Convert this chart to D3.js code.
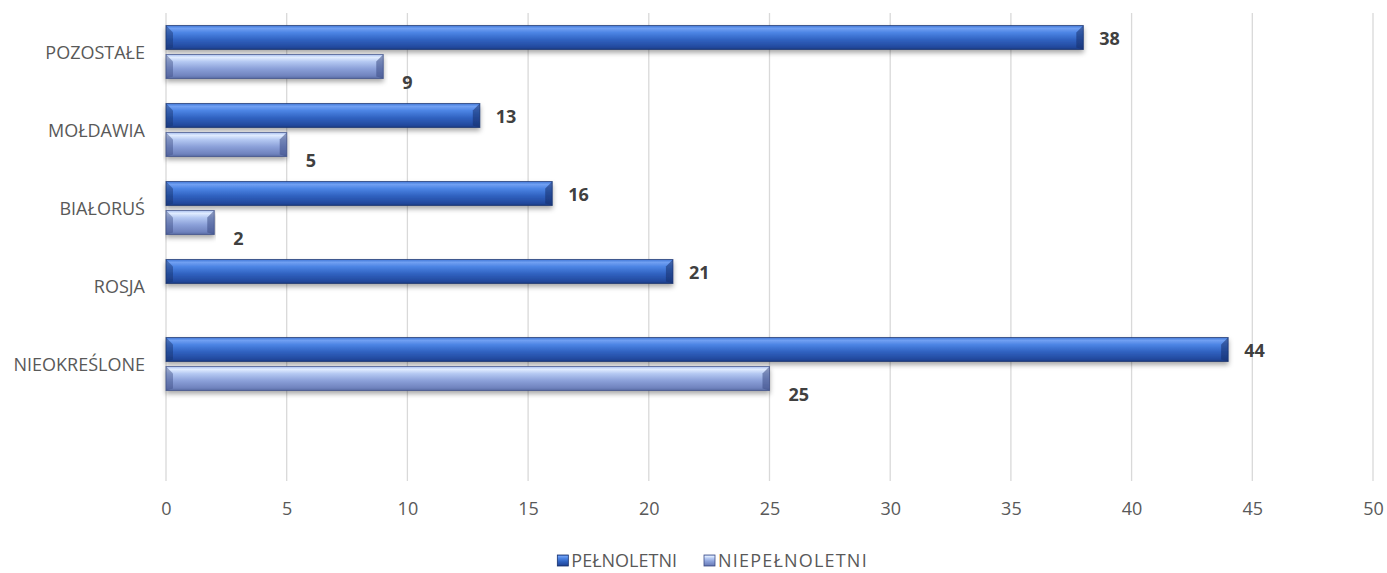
<!DOCTYPE html>
<html>
<head>
<meta charset="utf-8">
<script src="https://cdn.jsdelivr.net/npm/d3@7"></script>
<style>
  body { margin: 0; background: #fff; }
  text { font-family: "Open Sans", "Noto Sans", sans-serif; }
</style>
</head>
<body>
<div id="chart"></div>
<script>
// categories top to bottom (last slot is empty in the original)
var categories = ["POZOSTAŁE", "MOŁDAWIA", "BIAŁORUŚ", "ROSJA", "NIEOKREŚLONE", ""];
var adults = [38, 13, 16, 21, 44, null];
var minors = [9, 5, 2, null, 25, null];
var seriesNames = ["PEŁNOLETNI", "NIEPEŁNOLETNI"];
var xTicks = [0, 5, 10, 15, 20, 25, 30, 35, 40, 45, 50];

var width = 1387, height = 573;
var margin = {left: 166, right: 14, top: 13, bottom: 92};

var svg = d3.select('#chart').append('svg')
  .attr('width', width).attr('height', height);

var defs = svg.append('defs');

function grad(id, stops) {
  var g = defs.append('linearGradient').attr('id', id)
    .attr('x1', 0).attr('y1', 0).attr('x2', 0).attr('y2', 1);
  stops.forEach(function(s) {
    g.append('stop').attr('offset', s[0]).attr('stop-color', s[1]);
  });
}
grad('gDark', [[0, '#4176d6'], [0.12, '#70a0f2'], [0.3, '#4c84e4'], [0.6, '#3062c0'], [0.9, '#23499e'], [1, '#1b3a80']]);
grad('gLight', [[0, '#a9bff0'], [0.12, '#e0ecff'], [0.3, '#b4c8f2'], [0.6, '#8a9fd8'], [0.9, '#6f82bd'], [1, '#56689f']]);

var shadow = defs.append('filter').attr('id', 'shadow')
  .attr('x', '-2%').attr('y', '-30%').attr('width', '104%').attr('height', '180%');
shadow.append('feDropShadow').attr('dx', 0).attr('dy', 3).attr('stdDeviation', 2.5)
  .attr('flood-color', '#000').attr('flood-opacity', 0.35);

var x = d3.scaleLinear().domain([0, 50]).range([margin.left, width - margin.right]);
var y = d3.scaleBand().domain(d3.range(categories.length))
  .range([margin.top, height - margin.bottom]);

// gridlines
svg.append('g').selectAll('line').data(xTicks).enter().append('line')
  .attr('x1', function(d) { return x(d); })
  .attr('x2', function(d) { return x(d); })
  .attr('y1', margin.top).attr('y2', height - margin.bottom)
  .attr('stroke', '#d9d9d9').attr('stroke-width', 1.3);

// x axis labels
var xAxis = d3.axisBottom(x).tickValues(xTicks).tickSize(0).tickPadding(21);
var xg = svg.append('g').attr('transform', 'translate(0,' + (height - margin.bottom) + ')').call(xAxis);
xg.select('.domain').remove();
xg.selectAll('text').attr('font-size', 18).attr('fill', '#595959')
  .style('font-family', '"Open Sans", sans-serif');

// category labels
svg.append('g').selectAll('text').data(categories).enter().append('text')
  .attr('x', 145)
  .attr('y', function(d, i) { return y(i) + y.bandwidth() / 2 + 1; })
  .attr('text-anchor', 'end').attr('dy', '0.35em')
  .attr('font-size', 18).attr('fill', '#595959')
  .text(function(d) { return d; });

var barH = 24, gap = 5;
var groupH = barH * 2 + gap;

function drawBar(g, x0, x1, yTop, fill, edge) {
  var w = x1 - x0;
  var c = Math.min(7, w / 2);
  var bar = g.append('g').attr('filter', 'url(#shadow)');
  bar.append('rect').attr('x', x0).attr('y', yTop).attr('width', w).attr('height', barH)
    .attr('fill', fill);
  // bevel ends
  bar.append('path')
    .attr('d', 'M' + x0 + ',' + yTop + 'L' + (x0 + c) + ',' + (yTop + c) + 'L' + (x0 + c) + ',' + (yTop + barH - 2) + 'L' + x0 + ',' + (yTop + barH) + 'Z')
    .attr('fill', edge).attr('opacity', 0.45);
  bar.append('path')
    .attr('d', 'M' + x1 + ',' + yTop + 'L' + (x1 - c) + ',' + (yTop + c) + 'L' + (x1 - c) + ',' + (yTop + barH - 2) + 'L' + x1 + ',' + (yTop + barH) + 'Z')
    .attr('fill', edge).attr('opacity', 0.55);
  bar.append('rect').attr('x', x0).attr('y', yTop).attr('width', w).attr('height', barH)
    .attr('fill', 'none').attr('stroke', edge).attr('stroke-width', 1).attr('stroke-opacity', 0.7);
}

var barsG = svg.append('g');
var labelsG = svg.append('g');

categories.forEach(function(c, i) {
  var top = y(i) + (y.bandwidth() - groupH) / 2;
  if (adults[i] != null) {
    drawBar(barsG, x(0), x(adults[i]), top, 'url(#gDark)', '#17306b');
    labelsG.append('text')
      .attr('x', x(adults[i]) + 16).attr('y', top + barH / 2 + 1)
      .attr('dy', '0.35em').attr('font-size', 18).attr('font-weight', 'bold')
      .attr('fill', '#404040').text(adults[i]);
  }
  if (minors[i] != null) {
    var t2 = top + barH + gap;
    drawBar(barsG, x(0), x(minors[i]), t2, 'url(#gLight)', '#3d4d85');
    labelsG.append('text')
      .attr('x', x(minors[i]) + 19).attr('y', t2 + barH / 2 + 16)
      .attr('dy', '0.35em').attr('font-size', 18).attr('font-weight', 'bold')
      .attr('fill', '#404040').text(minors[i]);
  }
});

// legend
var legend = svg.append('g');
var fills = [['url(#gDark)', '#17306b'], ['url(#gLight)', '#3d4d85']];
var item2 = legend.append('g');
item2.append('text').attr('x', 718).attr('y', 561).attr('dy', '0.35em')
  .attr('font-size', 18).attr('letter-spacing', 1.2).attr('fill', '#595959').text(seriesNames[1]);
item2.append('rect').attr('x', 704).attr('y', 555).attr('width', 11).attr('height', 11)
  .attr('fill', fills[1][0]).attr('stroke', fills[1][1]).attr('stroke-width', 0.8);
var item1 = legend.append('g');
var t1 = item1.append('text').attr('x', 677).attr('y', 561).attr('dy', '0.35em')
  .attr('text-anchor', 'end')
  .attr('font-size', 18).attr('fill', '#595959').text(seriesNames[0]);
var len1 = t1.node().getComputedTextLength();
item1.append('rect').attr('x', 677 - len1 - 14).attr('y', 555).attr('width', 11).attr('height', 11)
  .attr('fill', fills[0][0]).attr('stroke', fills[0][1]).attr('stroke-width', 0.8);
</script>
</body>
</html>
